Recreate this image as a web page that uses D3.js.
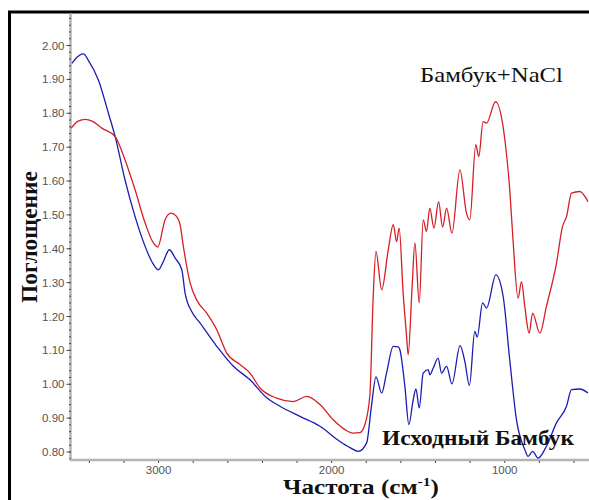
<!DOCTYPE html>
<html>
<head>
<meta charset="utf-8">
<script src="https://cdn.jsdelivr.net/npm/d3@7"></script>
<style>
  body { margin: 0; background: #fff; }
  svg { display: block; }
</style>
</head>
<body>
<div id="chart-area"></div>
<script>
// wavenumber (cm-1) / absorbance
var nacl_wn = [3502, 3462, 3421, 3381, 3325, 3248, 3191, 3133, 3075, 3027, 3002, 2960, 2925, 2896, 2873, 2854, 2815, 2777, 2719, 2661, 2603, 2527, 2469, 2411, 2315, 2219, 2141, 2065, 1988, 1920, 1874, 1834, 1805, 1776, 1757, 1741, 1708, 1670, 1641, 1622, 1607, 1584, 1564, 1555, 1533, 1516, 1491, 1468, 1449, 1430, 1406, 1379, 1356, 1333, 1302, 1256, 1218, 1199, 1164, 1147, 1122, 1102, 1050, 996, 968, 949, 920, 900, 881, 856, 836, 794, 756, 698, 663, 640, 611, 563, 516];
var nacl_abs = [1.756, 1.777, 1.782, 1.777, 1.756, 1.731, 1.662, 1.574, 1.476, 1.417, 1.405, 1.485, 1.505, 1.497, 1.471, 1.407, 1.299, 1.249, 1.210, 1.161, 1.092, 1.058, 1.033, 0.989, 0.959, 0.949, 0.964, 0.940, 0.895, 0.866, 0.856, 0.857, 0.881, 0.969, 1.259, 1.392, 1.279, 1.397, 1.471, 1.421, 1.461, 1.269, 1.141, 1.087, 1.279, 1.417, 1.240, 1.485, 1.451, 1.520, 1.461, 1.539, 1.464, 1.520, 1.446, 1.633, 1.505, 1.485, 1.707, 1.672, 1.775, 1.771, 1.834, 1.721, 1.574, 1.426, 1.254, 1.303, 1.230, 1.151, 1.210, 1.151, 1.230, 1.357, 1.466, 1.495, 1.564, 1.569, 1.539];

var raw_wn = [3498, 3473, 3431, 3404, 3345, 3287, 3248, 3191, 3133, 3075, 3035, 2998, 2971, 2935, 2902, 2863, 2844, 2805, 2758, 2661, 2565, 2469, 2372, 2296, 2180, 2065, 1949, 1891, 1843, 1795, 1766, 1741, 1708, 1680, 1641, 1612, 1603, 1574, 1551, 1526, 1510, 1491, 1468, 1439, 1430, 1410, 1382, 1362, 1333, 1302, 1255, 1227, 1201, 1170, 1156, 1125, 1102, 1048, 1006, 968, 929, 881, 862, 836, 804, 756, 698, 640, 611, 563, 516];
var raw_abs = [1.947, 1.963, 1.975, 1.957, 1.898, 1.800, 1.731, 1.603, 1.495, 1.407, 1.361, 1.338, 1.361, 1.397, 1.373, 1.338, 1.269, 1.214, 1.181, 1.112, 1.053, 1.013, 0.960, 0.935, 0.905, 0.876, 0.831, 0.813, 0.802, 0.827, 0.940, 1.022, 0.974, 1.033, 1.112, 1.110, 1.102, 0.994, 0.881, 0.954, 0.986, 0.930, 1.033, 1.043, 1.028, 1.048, 1.077, 1.033, 1.053, 1.001, 1.114, 1.066, 0.996, 1.156, 1.139, 1.240, 1.225, 1.323, 1.259, 1.072, 0.895, 0.807, 0.787, 0.802, 0.782, 0.817, 0.886, 0.935, 0.984, 0.986, 0.974];

var yTicks = [0.80, 0.90, 1.00, 1.10, 1.20, 1.30, 1.40, 1.50, 1.60, 1.70, 1.80, 1.90, 2.00];
var xLabels = [3000, 2000, 1000];

var W = 589, H = 500;
var svg = d3.select("#chart-area")
  .append("svg")
  .attr("width", W)
  .attr("height", H)
  .style("font-family", "Arial, 'Liberation Sans', sans-serif");

// outer frame (runs past the picture on the right and bottom)
svg.append("rect")
  .attr("x", 9.5)
  .attr("y", 12)
  .attr("width", 620)
  .attr("height", 520)
  .attr("fill", "none")
  .attr("stroke", "black")
  .attr("stroke-width", 3);

var x = d3.scaleLinear()
  .domain([3505, 510])
  .range([70.7, 589]);

var y = d3.scaleLinear()
  .domain([0.80, 2.00])
  .range([452, 45.5]);

var plotTop = 13.5, plotBottom = 460;

// y axis
var yAxis = svg.append("g").attr("transform", "translate(70.5,0)");
yAxis.append("line")
  .attr("y1", plotTop).attr("y2", plotBottom)
  .attr("stroke", "#b4b4b4").attr("stroke-width", 2.5);
yAxis.selectAll(".minor")
  .data(d3.range(0.78, 2.10, 0.02))
  .enter().append("line")
  .attr("class", "minor")
  .attr("x1", -1.5).attr("x2", 0.5)
  .attr("y1", d => y(d)).attr("y2", d => y(d))
  .attr("stroke", "#444").attr("stroke-width", 1);
yAxis.selectAll(".major")
  .data(yTicks)
  .enter().append("line")
  .attr("class", "major")
  .attr("x1", -4).attr("x2", 0)
  .attr("y1", d => y(d)).attr("y2", d => y(d))
  .attr("stroke", "#444");
yAxis.selectAll("text")
  .data(yTicks)
  .enter().append("text")
  .attr("x", -6)
  .attr("y", d => y(d))
  .attr("dy", "0.35em")
  .attr("text-anchor", "end")
  .attr("font-size", "11.5px")
  .attr("fill", "#555")
  .text(d => d.toFixed(2));

// x axis
var xAxisCall = d3.axisBottom(x)
  .tickValues(d3.range(3400, 500, -200))
  .tickSize(3)
  .tickFormat(d => xLabels.indexOf(d) >= 0 ? d : "");
var xAxis = svg.append("g")
  .attr("class", "x axis")
  .attr("transform", "translate(0," + plotBottom + ")")
  .call(xAxisCall);
xAxis.select(".domain").remove();
xAxis.insert("line", ":first-child")
  .attr("x1", 69.5).attr("x2", W)
  .attr("stroke", "#b4b4b4").attr("stroke-width", 2.5);
xAxis.selectAll(".tick line").attr("stroke", "#444").attr("y1", 1);
xAxis.selectAll(".tick text")
  .attr("y", 6)
  .attr("font-size", "11.5px")
  .attr("font-family", "Arial, 'Liberation Sans', sans-serif")
  .attr("fill", "#555");

var line = d3.line()
  .x(d => x(d[0]))
  .y(d => y(d[1]))
  .curve(d3.curveMonotoneX);

var clip = svg.append("clipPath").attr("id", "plot-clip")
  .append("rect").attr("x", 71).attr("y", plotTop).attr("width", W - 71).attr("height", plotBottom - plotTop - 1);

var plot = svg.append("g").attr("clip-path", "url(#plot-clip)");

plot.append("path")
  .datum(d3.zip(raw_wn, raw_abs))
  .attr("d", line)
  .attr("fill", "none")
  .attr("stroke", "#1c1cb4")
  .attr("stroke-width", 1.3);

plot.append("path")
  .datum(d3.zip(nacl_wn, nacl_abs))
  .attr("d", line)
  .attr("fill", "none")
  .attr("stroke", "#d61f26")
  .attr("stroke-width", 1.3);

var serif = "'Liberation Serif', 'Times New Roman', serif";

svg.append("text")
  .attr("x", 420)
  .attr("y", 82)
  .attr("font-family", serif)
  .attr("font-size", "22px")
  .attr("textLength", 143)
  .attr("lengthAdjust", "spacingAndGlyphs")
  .attr("fill", "#111")
  .text("Бамбук+NaCl");

svg.append("text")
  .attr("x", 382)
  .attr("y", 445)
  .attr("font-family", serif)
  .attr("font-size", "22px")
  .attr("font-weight", "bold")
  .attr("textLength", 192)
  .attr("lengthAdjust", "spacingAndGlyphs")
  .attr("fill", "#111")
  .text("Исходный Бамбук");

svg.append("text")
  .attr("transform", "translate(37,237) rotate(-90)")
  .attr("text-anchor", "middle")
  .attr("font-family", serif)
  .attr("font-size", "23px")
  .attr("font-weight", "bold")
  .attr("textLength", 132)
  .attr("lengthAdjust", "spacingAndGlyphs")
  .attr("fill", "#111")
  .text("Поглощение");

var xt = svg.append("text")
  .attr("x", 361)
  .attr("y", 494)
  .attr("text-anchor", "middle")
  .attr("font-family", serif)
  .attr("font-size", "21px")
  .attr("font-weight", "bold")
  .attr("textLength", 156)
  .attr("lengthAdjust", "spacingAndGlyphs")
  .attr("fill", "#111");
xt.append("tspan").text("Частота (см");
xt.append("tspan").attr("font-size", "13px").attr("dy", "-8").text("-1");
xt.append("tspan").attr("dy", "8").text(")");
</script>
</body>
</html>
